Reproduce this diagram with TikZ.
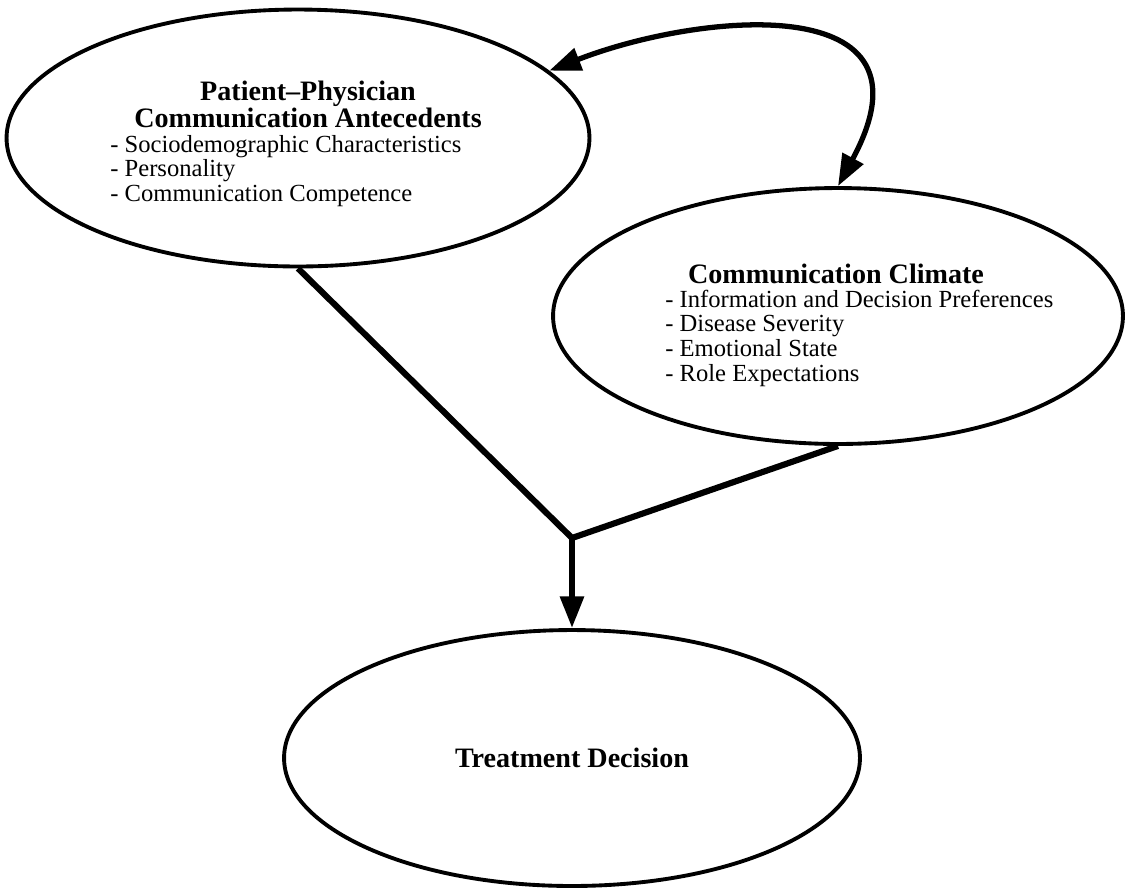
\documentclass[tikz,border=0pt]{standalone}
\usepackage{fontspec}
\setmainfont{Liberation Serif}
\usetikzlibrary{shapes.geometric,arrows.meta}

\begin{document}
\begin{tikzpicture}[x=0.02cm,y=-0.02cm,
		>={Triangle[length=18pt,width=13pt]},
		oval/.style={ellipse,draw,line width=2.2pt,inner sep=0pt},
		body/.style={font=\fontsize{14}{14.2}\selectfont,inner sep=0pt},
		head/.style={font=\fontsize{16}{14.6}\selectfont\bfseries,inner sep=0pt},
		link/.style={line width=3.5pt,line join=round}]
	\useasboundingbox (0,0) rectangle (1125,894);
	\node[oval,minimum width=11.66cm,minimum height=5.14cm](ante) at (298,138){};
	\node[oval,minimum width=11.4cm,minimum height=5.12cm](clim) at (838,316){};
	\node[oval,head,minimum width=11.52cm,minimum height=5.12cm](treat) at (572,758){Treatment Decision};
	\node[head,anchor=base](antehead) at (308,100){
		\begin{tabular}[t]{@{}c@{}}Patient--Physician\\Communication Antecedents\end{tabular}};
	\node[body,anchor=base west](antelist) at (110,152){
		\begin{tabular}[t]{@{}l@{}}- Sociodemographic Characteristics\\- Personality\\- Communication Competence\end{tabular}};
	\node[head,anchor=base](climhead) at (836,283){Communication Climate};
	\node[body,anchor=base west](climlist) at (665,307){
		\begin{tabular}[t]{@{}l@{}}- Information and Decision Preferences\\- Disease Severity\\- Emotional State\\- Role Expectations\end{tabular}};
	\coordinate(join) at (572,538);
	\draw[link](ante.south)--(join)--(clim.south);
	\draw[link,->](join)--(treat.north);
	\draw[line width=3pt,<->](ante.15) .. controls (700,12) and (945,-12) .. (clim.north);
\end{tikzpicture}
\end{document}
